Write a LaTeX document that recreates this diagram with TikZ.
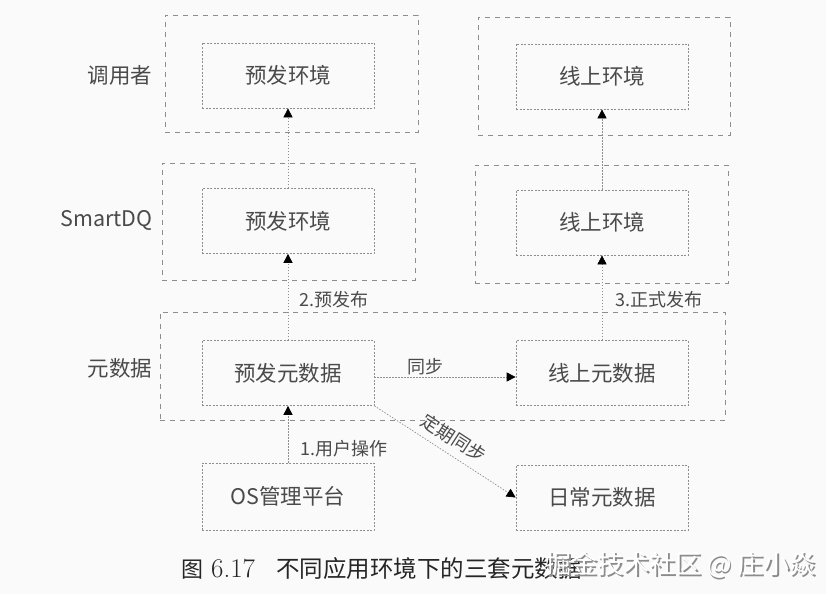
\documentclass[tikz,border=0pt]{standalone}
\usepackage{fontspec}
\newfontfamily\cjk{Noto Sans CJK SC}
\usetikzlibrary{arrows.meta}
\definecolor{txt}{HTML}{4A4A4A}
\definecolor{ln}{HTML}{8E8E8E}
\definecolor{bg}{HTML}{FAFAFA}
\tikzset{
  grp/.style={draw=ln, line width=0.8pt, dash pattern=on 5pt off 5pt, minimum width=253pt, minimum height=117pt, inner sep=0pt},
  box/.style={draw=ln, line width=0.7pt, dash pattern=on 2pt off 1.5pt, minimum width=172pt, minimum height=65pt, inner sep=0pt, text=txt, font=\cjk\fontsize{21.5}{24}\selectfont},
  side/.style={anchor=east, text=txt, font=\cjk\fontsize{21.5}{24}\selectfont},
  elab/.style={text=txt, font=\cjk\fontsize{18}{20}\selectfont},
  arr/.style={draw=ln, line width=0.7pt, dash pattern=on 1.5pt off 1.5pt, -{Triangle[length=9pt,width=9pt,fill=black,color=black]}}
}
\begin{document}
\begin{tikzpicture}[x=1pt,y=-1pt]
\fill[bg] (0,0) rectangle (826,594);
\useasboundingbox (0,0) rectangle (826,594);
% groups
\node[grp] (g1) at (291.5,73.5) {};
\node[grp, minimum width=252pt, minimum height=118pt] (g2) at (604,76) {};
\node[grp] (g3) at (288.5,221.5) {};
\node[grp, minimum height=118pt] (g4) at (601.5,224) {};
\node[grp, minimum width=565pt, minimum height=108pt] (g5) at (442.5,366) {};
% side labels
\node[side] (l1) at (156,75) {调用者};
\node[side] (l2) at (156,220) {SmartDQ};
\node[side] (l3) at (156,368) {元数据};
% boxes
\node[box] (pe1) at (288,75.5) {预发环境};
\node[box] (le1) at (602,76.5) {线上环境};
\node[box] (pe2) at (288,221) {预发环境};
\node[box] (le2) at (602,222.5) {线上环境};
\node[box] (pm) at (288,373) {预发元数据};
\node[box] (lm) at (602,373) {线上元数据};
\node[box, minimum height=67pt] (os) at (288,496.5) {OS管理平台};
\node[box] (dm) at (602,497.5) {日常元数据};
% connectors
\draw[arr] (pe2.north) -- (pe1.south);
\draw[arr] (le2.north) -- (le1.south);
\draw[arr] (pm.north) -- (pe2.south);
\draw[arr] (lm.north) -- (le2.south);
\draw[arr] (os.north) -- (pm.south);
\draw[arr] ([yshift=-4pt]pm.east) -- ([yshift=-4pt]lm.west);
\draw[arr] (pm.south east) -- (dm.west)
  node[elab, pos=0.5, sloped, above=4pt] (t5) {定期同步};
% edge labels
\node[elab, anchor=west] (t2) at (296,300) {2.预发布};
\node[elab, anchor=west] (t3) at (612,300) {3.正式发布};
\node[elab, anchor=west] (t1) at (297,449) {1.用户操作};
\node[elab] (t4) at (425,367) {同步};
% caption
\node[anchor=west, text=black!85, inner sep=0pt] (cap) at (181,569)
  {{\cjk\fontsize{22}{24}\selectfont 图}\hspace{8pt}\fontsize{27}{28}\selectfont 6.17\hspace{21pt}{\cjk\fontsize{23.5}{26}\selectfont 不同应用环境下的三套元数据}};
% watermark
\node[anchor=west, text=black!45, inner sep=0pt, font=\cjk\fontsize{26}{28}\selectfont] (wms) at (546.8,566.8) {掘金技术社区 @ 庄小焱};
\node[anchor=west, text=white, inner sep=0pt, font=\cjk\fontsize{26}{28}\selectfont] (wm) at (545,565) {掘金技术社区 @ 庄小焱};
\end{tikzpicture}
\end{document}
